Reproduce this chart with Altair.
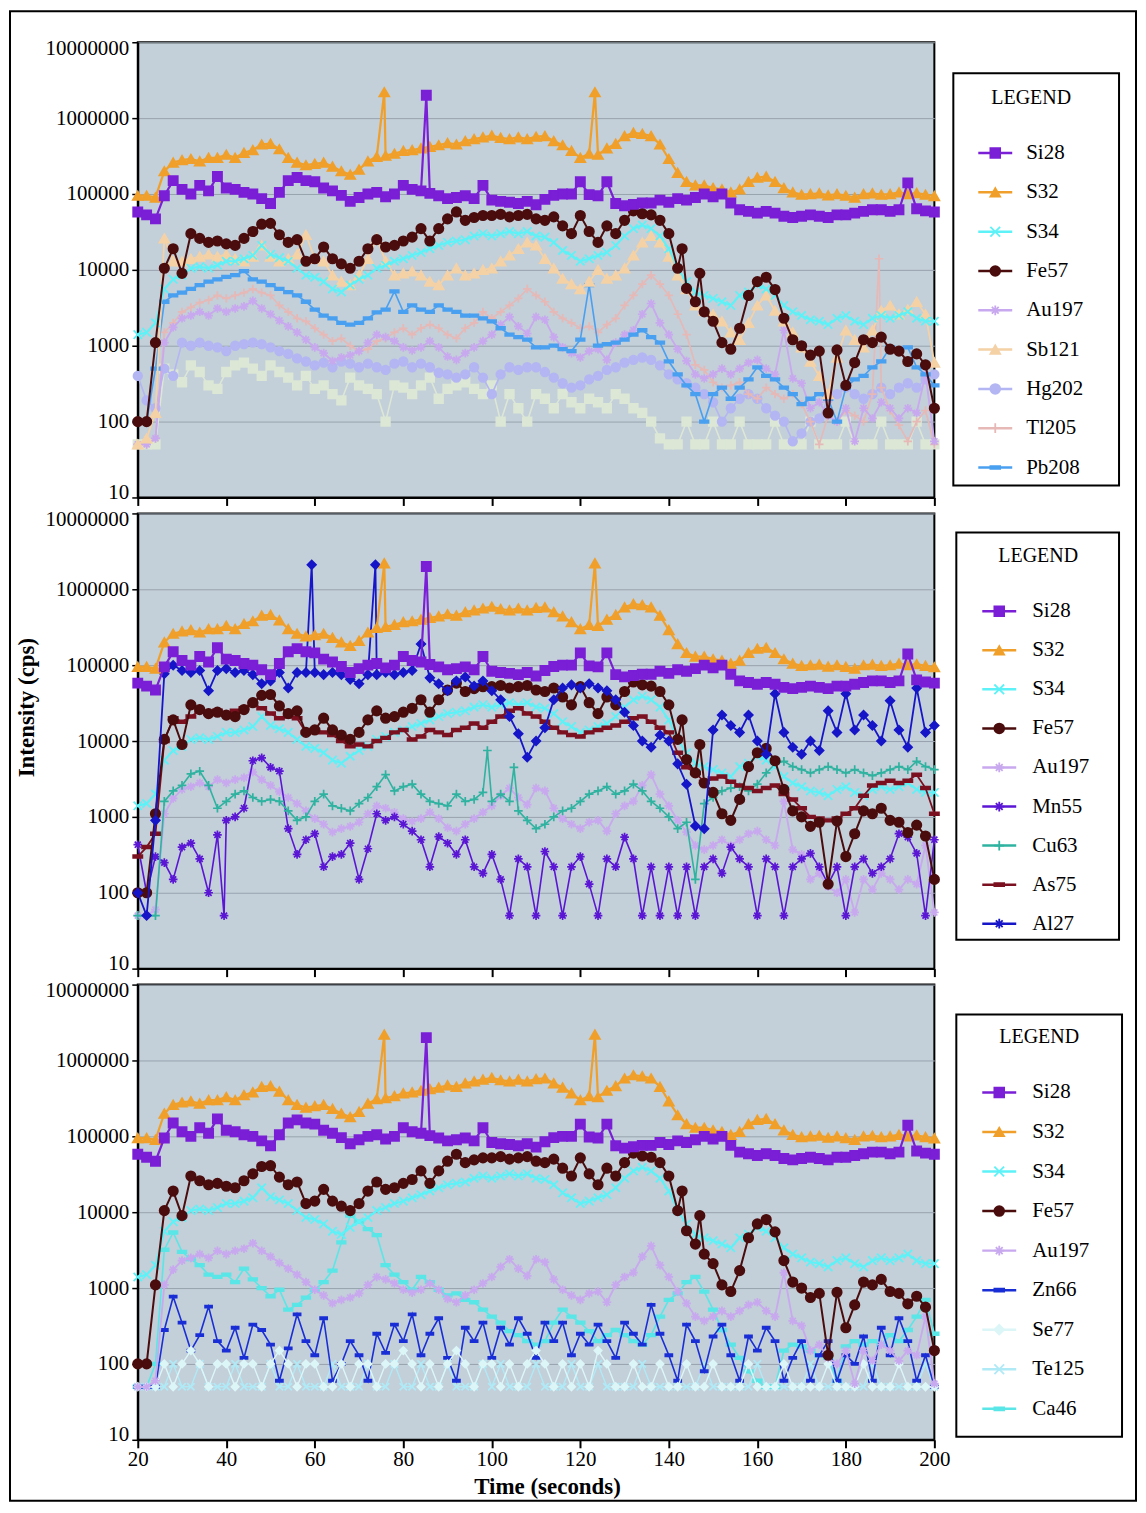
import altair as alt
import pandas as pd

FONT = "Liberation Serif"

# time grid (seconds)
TIME = list(range(20, 201, 2))
X_TICKS = list(range(20, 201, 20))
Y_TICKS = [10, 100, 1000, 10000, 100000, 1000000, 10000000]

# ---------------- series values (cps), one value per TIME step ----------------
SI28 = [58000, 53000, 47000, 95000, 150000, 115000, 100000, 130000, 110000, 170000,
        120000, 115000, 105000, 100000, 87000, 75000, 105000, 150000, 165000, 150000,
        145000, 120000, 110000, 96000, 80000, 90000, 100000, 105000, 92000, 100000,
        130000, 115000, 110000, 102000, 95000, 87000, 90000, 95000, 87000, 130000,
        83000, 80000, 78000, 75000, 80000, 72000, 85000, 96000, 100000, 100000,
        145000, 98000, 95000, 145000, 75000, 70000, 73000, 76000, 76000, 83000,
        78000, 87000, 83000, 90000, 100000, 92000, 100000, 76000, 62000, 59000,
        56000, 59000, 56000, 51000, 49000, 51000, 53000, 51000, 49000, 53000,
        53000, 56000, 59000, 62000, 62000, 59000, 62000, 140000, 64000, 60000,
        58000]
S32 = [95000, 95000, 90000, 200000, 260000, 280000, 290000, 270000, 300000, 300000,
       330000, 300000, 350000, 380000, 450000, 460000, 390000, 300000, 260000, 240000,
       250000, 260000, 230000, 200000, 180000, 210000, 270000, 310000, 320000, 340000,
       370000, 380000, 400000, 420000, 440000, 470000, 450000, 500000, 530000, 560000,
       590000, 550000, 530000, 560000, 530000, 570000, 580000, 500000, 440000, 370000,
       300000, 340000, 330000, 400000, 460000, 580000, 640000, 620000, 580000, 450000,
       290000, 190000, 145000, 130000, 130000, 120000, 115000, 105000, 115000, 145000,
       165000, 170000, 145000, 120000, 105000, 98000, 100000, 102000, 96000, 100000,
       95000, 90000, 100000, 102000, 98000, 100000, 105000, 100000, 103000, 98000,
       94000]
S34 = [1400, 1500, 2000, 5600, 7500, 8500, 10500, 11000, 10500, 11500,
       13000, 13000, 14000, 15500, 21000, 16000, 14500, 13000, 10500, 8500,
       8000, 7000, 5600, 5100, 6300, 7500, 8500, 10500, 11500, 13000,
       14000, 15500, 17000, 19000, 21000, 23000, 24000, 25000, 28000, 30000,
       28000, 30000, 32000, 30000, 32000, 28000, 27000, 23000, 18000, 15500,
       13000, 14000, 15500, 17000, 21000, 28000, 35000, 39000, 35000, 28000,
       19000, 10500, 7000, 5100, 4600, 4200, 3800, 3400, 4600, 5100,
       6300, 5600, 4600, 3400, 2800, 2500, 2200, 2100, 1900, 2300,
       2500, 2100, 1900, 2300, 2500, 2300, 2500, 2800, 2300, 2100,
       2100]
FE57 = [100, 100, 1100, 10500, 19000, 9000, 30000, 26000, 23000, 24000,
        22000, 21000, 26000, 32000, 40000, 41000, 29000, 23000, 25000, 13000,
        14000, 20000, 14000, 12000, 10500, 13000, 19000, 25000, 20000, 21000,
        24000, 27000, 35000, 24000, 35000, 47000, 58000, 45000, 49000, 52000,
        52000, 54000, 50000, 52000, 54000, 47000, 45000, 50000, 38000, 30000,
        52000, 32000, 23000, 38000, 30000, 45000, 60000, 55000, 53000, 45000,
        30000, 10500, 5700, 3800, 2800, 2100, 1100, 900, 1700, 4600,
        7000, 8000, 5500, 2300, 1200, 1000, 750, 850, 130, 880,
        300, 600, 1200, 1100, 1300, 900, 850, 620, 780, 560,
        150]
AU197 = [50, 50, 60, 1100, 1750, 2300, 2500, 2800, 2500, 3100,
         2800, 3100, 3300, 3900, 3100, 2600, 2150, 1800, 1500, 1200,
         950, 800, 630, 700, 750, 850, 1100, 1400, 1300, 1150,
         950, 870, 950, 1150, 950, 720, 650, 800, 950, 1150,
         1400, 1900, 2400, 1800, 1450, 2400, 2200, 1300, 950, 800,
         700, 850, 900, 650, 1100, 1400, 1600, 2600, 3600, 2000,
         1400, 900, 630, 420, 370, 420, 500, 420, 500, 600,
         650, 500, 420, 1600, 370, 320, 150, 180, 120, 100,
         150, 55, 150, 110, 180, 150, 110, 150, 130, 420,
         55]
SB121 = [50, 60, 130, 26000, 13000, 13000, 14000, 15000, 16000, 15000,
         16000, 14000, 13000, 15000, 21000, 15000, 13000, 14000, 16000, 29000,
         14000, 13000, 8500, 7000, 6300, 8500, 14000, 26000, 13000, 8500,
         9000, 9600, 8500, 7000, 6300, 8500, 10500, 8500, 9000, 10000,
         10500, 13000, 15500, 19000, 23000, 21000, 14000, 10500, 7700, 6500,
         5600, 7000, 10000, 7700, 8500, 10500, 15500, 23000, 28000, 23000,
         15000, 8500, 5600, 3400, 2900, 2600, 2100, 1500, 1200, 2000,
         3400, 4600, 2900, 2100, 1500, 950, 620, 400, 230, 700,
         1600, 1200, 950, 1600, 2900, 3400, 2600, 3000, 3800, 2600,
         600]
HG202 = [400, 190, 150, 500, 400, 1100, 1000, 1100, 1000, 950,
         850, 1000, 1050, 1100, 1050, 950, 850, 780, 680, 620,
         550, 600, 520, 620, 580, 520, 580, 520, 480, 580,
         620, 520, 580, 520, 440, 420, 380, 420, 520, 380,
         230, 420, 520, 480, 520, 520, 450, 380, 320, 280,
         300, 360, 400, 480, 520, 600, 650, 700, 650, 550,
         420, 360, 320, 280, 230, 180, 100, 150, 200, 230,
         200, 150, 120, 100, 55, 70, 100, 110, 200, 230,
         280, 230, 200, 230, 280, 230, 280, 320, 280, 360,
         420]
TL205 = [50, 50, 60, 1500, 2000, 2800, 3200, 3700, 4000, 4600,
         4200, 4600, 5000, 5600, 5000, 4600, 3400, 2800, 2300, 2100,
         1700, 1400, 1150, 1250, 1000, 850, 900, 1150, 1250, 1500,
         1700, 1400, 1700, 1900, 1700, 1400, 1250, 1700, 2000, 2800,
         2300, 2800, 3400, 4200, 5600, 4600, 3800, 2800, 2300, 2000,
         1700, 1800, 1500, 1900, 2300, 3400, 4600, 6500, 8500, 6500,
         4600, 2600, 1400, 560, 480, 330, 280, 300, 330, 230,
         200, 280, 230, 200, 230, 170, 100, 50, 120, 100,
         140, 120, 100, 230, 280, 140, 90, 55, 100, 140,
         50]
PB208 = [100, 100, 500, 3800, 4600, 5000, 5600, 6300, 7000, 7500,
         8100, 8500, 9600, 7500, 7000, 6300, 5600, 5100, 4600, 3800,
         3000, 2500, 2300, 2000, 1900, 2000, 2300, 2750, 3000, 5200,
         2800, 3400, 3000, 2800, 3400, 3000, 2800, 2500, 2500, 2300,
         2100, 1700, 1400, 1300, 1200, 950, 950, 1000, 900, 850,
         1200, 6300, 1000, 1050, 1100, 1200, 1400, 1600, 1300, 1100,
         620, 420, 300, 230, 100, 230, 280, 200, 280, 360,
         520, 400, 360, 280, 230, 170, 200, 230, 200, 100,
         280, 360, 400, 520, 620, 950, 900, 950, 520, 420,
         300]
OTHER = [50, 50, 50, 500, 420, 330, 550, 450, 300, 270,
         450, 550, 600, 500, 400, 550, 450, 380, 300, 400,
         270, 300, 230, 190, 380, 300, 270, 230, 100, 300,
         280, 230, 300, 380, 200, 270, 300, 330, 270, 230,
         300, 100, 230, 150, 100, 230, 200, 150, 230, 180,
         150, 200, 180, 150, 230, 200, 150, 130, 100, 60,
         50, 50, 100, 50, 50, 100, 50, 50, 100, 50,
         50, 50, 100, 50, 50, 50, 100, 50, 50, 50,
         100, 50, 50, 50, 100, 50, 50, 50, 100, 50,
         50]
MN55 = [430, 100, 300, 250, 150, 400, 450, 280, 100, 580,
        900, 1000, 1300, 5500, 6000, 4500, 4000, 700, 320, 500,
        600, 220, 300, 320, 450, 150, 380, 1100, 900, 1000,
        800, 650, 500, 220, 550, 450, 320, 500, 220, 180,
        320, 150, 50, 280, 220, 50, 350, 220, 50, 220,
        300, 130, 50, 280, 220, 540, 280, 50, 220, 50,
        220, 50, 220, 50, 220, 280, 180, 400, 280, 220,
        50, 280, 220, 50, 220, 280, 330, 220, 130, 220,
        50, 220, 280, 180, 220, 280, 600, 540, 330, 50,
        500]
CU63 = [50, 50, 50, 1600, 2200, 2600, 3700, 4000, 2600, 1300,
        1600, 2000, 2200, 1800, 1600, 1700, 1600, 1200, 900, 1000,
        1600, 2000, 1400, 1300, 1200, 1500, 1800, 2500, 3600, 2200,
        2500, 2700, 2000, 1600, 1500, 1400, 2000, 1600, 1700, 2100,
        1600, 2000, 1600, 1200, 900, 700, 800, 1000, 1200, 1300,
        1600, 2000, 2200, 2500, 2000, 2200, 2700, 2200, 1600, 1300,
        1000, 700, 850, 150, 1500, 1800, 2200, 2400, 2500, 2200,
        2700, 3800, 5000, 5400, 4600, 4200, 3800, 4200, 4600, 4200,
        3800, 4200, 3800, 3500, 3800, 4200, 4600, 4200, 5400, 4600,
        4200]
AS75 = [300, 400, 600, 10000, 20000, 18000, 21000, 25000, 23000, 25000,
        23000, 25000, 27000, 31000, 27000, 23000, 20000, 21000, 20000, 13000,
        14000, 13000, 12000, 10000, 8500, 9000, 8500, 10000, 11000, 13000,
        14000, 10500, 11500, 14000, 13000, 12000, 14000, 15000, 17000, 15000,
        18000, 21000, 25000, 27000, 23000, 21000, 18000, 15000, 13000, 12000,
        11500, 13000, 14000, 15000, 16000, 18000, 20000, 21000, 18000, 15000,
        13000, 7000, 4500, 3800, 2900, 3200, 3400, 2900, 2600, 2400,
        2200, 2400, 2600, 2000, 1700, 1300, 1000, 950, 900, 950,
        1100, 1300, 1900, 2600, 2800, 3000, 2800, 3000, 3600, 2400,
        1100]
AL27 = [100, 50, 900, 77000, 100000, 85000, 80000, 85000, 46000, 85000,
        90000, 80000, 85000, 75000, 57000, 62000, 80000, 50000, 80000, 80000,
        80000, 75000, 80000, 75000, 65000, 57000, 75000, 75000, 80000, 75000,
        80000, 85000, 190000, 68000, 57000, 46000, 62000, 70000, 53000, 62000,
        46000, 35000, 21000, 12500, 6100, 10000, 15000, 35000, 50000, 55000,
        50000, 57000, 50000, 46000, 35000, 24000, 16000, 10000, 8300, 12000,
        10000, 5000, 2700, 760, 700, 14000, 22000, 16000, 13000, 22000,
        10000, 6700, 42000, 13000, 8300, 6700, 10000, 7500, 25000, 13000,
        42000, 14000, 22000, 16000, 10000, 34000, 14000, 8300, 50000, 13000,
        16000]
ZN66 = [50, 50, 50, 280, 770, 350, 150, 240, 570, 200,
        150, 300, 120, 330, 280, 180, 60, 160, 450, 200,
        130, 400, 60, 100, 200, 130, 60, 250, 140, 330,
        200, 450, 130, 250, 400, 120, 60, 300, 200, 350,
        120, 300, 180, 400, 250, 120, 350, 200, 350, 130,
        250, 180, 330, 200, 120, 350, 250, 180, 600, 250,
        130, 60, 330, 200, 80, 230, 330, 130, 60, 230,
        150, 300, 200, 60, 120, 200, 60, 130, 200, 60,
        130, 100, 230, 60, 300, 130, 400, 200, 60, 130,
        50]
SE77 = [50, 50, 50, 100, 50, 100, 150, 100, 50, 100,
        100, 50, 100, 100, 50, 100, 150, 100, 50, 100,
        100, 50, 50, 100, 50, 100, 100, 50, 100, 100,
        150, 100, 50, 100, 50, 100, 150, 100, 50, 100,
        100, 50, 100, 50, 100, 150, 100, 50, 100, 50,
        100, 50, 150, 100, 50, 50, 100, 50, 50, 100,
        50, 50, 100, 50, 50, 100, 50, 50, 50, 100,
        50, 50, 50, 100, 50, 50, 50, 50, 100, 50,
        50, 50, 100, 50, 50, 50, 100, 50, 50, 50,
        50]
TE125 = [50, 50, 50, 50, 100, 50, 50, 100, 50, 50,
         50, 100, 50, 50, 50, 100, 50, 50, 100, 50,
         50, 50, 100, 50, 50, 50, 100, 50, 50, 100,
         50, 50, 100, 50, 50, 100, 50, 50, 50, 100,
         50, 100, 50, 50, 50, 100, 50, 50, 50, 100,
         50, 50, 100, 50, 50, 50, 50, 100, 50, 50,
         50, 50, 50, 50, 100, 50, 50, 50, 50, 50,
         100, 50, 50, 50, 50, 50, 100, 50, 50, 50,
         50, 50, 50, 100, 50, 50, 50, 50, 50, 100,
         50]
CA46 = [50, 50, 100, 3200, 5400, 3000, 2400, 2000, 1500, 1400,
        1500, 1200, 1800, 1300, 1000, 780, 950, 520, 600, 750,
        950, 1200, 1700, 4000, 9000, 7500, 6000, 5000, 2000, 1500,
        1200, 950, 1400, 1200, 950, 800, 850, 700, 650, 520,
        420, 350, 270, 240, 200, 180, 200, 350, 520, 420,
        350, 270, 200, 240, 280, 240, 200, 180, 240, 420,
        700, 850, 1200, 1400, 900, 520, 280, 180, 120, 80,
        60, 50, 50, 150, 180, 170, 150, 130, 120, 60,
        170, 200, 180, 200, 180, 240, 200, 280, 420, 700,
        250]

SERIES = {"Si28": SI28, "S32": S32, "S34": S34, "Fe57": FE57, "Au197": AU197,
          "Sb121": SB121, "Hg202": HG202, "Tl205": TL205, "Pb208": PB208,
          "Other": OTHER, "Mn55": MN55, "Cu63": CU63, "As75": AS75, "Al27": AL27,
          "Zn66": ZN66, "Se77": SE77, "Te125": TE125, "Ca46": CA46}
for _k, _v in SERIES.items():
    assert len(_v) == len(TIME), (_k, len(_v))

# short transient readings between grid steps: (time, cps)
SPIKES = {
    "S32": [(75.7, 2200000), (123.3, 2200000)],
    "Si28": [(85.2, 2000000)],
    "Fe57": [(143.0, 19000), (147.0, 9000)],
    "Tl205": [(187.5, 14000)],
    "Mn55": [(39.5, 50)],
    "Cu63": [(99.0, 7500), (105.0, 4500)],
    "Al27": [(59.3, 2100000), (73.7, 2100000)],
}

SQUARE = "square"
TRI = "triangle-up"
CIRCLE = "circle"
DIAMOND = "diamond"
XMARK = "M-1,-1L1,1M-1,1L1,-1"
PLUS = "M-1,0L1,0M0,-1L0,1"
STAR = "M-1,0L1,0M0,-1L0,1M-0.7,-0.7L0.7,0.7M-0.7,0.7L0.7,-0.7"
DASH = "M-1,-0.3L1,-0.3L1,0.3L-1,0.3Z"

# name: (colour, marker, marker size, line width)
STYLE = {
    "Si28": ("#7a1fd6", SQUARE, 85, 2.2),
    "S32": ("#f0a02a", TRI, 100, 2.2),
    "S34": ("#5cf2f7", XMARK, 70, 2.0),
    "Fe57": ("#4a0c0c", CIRCLE, 90, 2.0),
    "Au197": ("#c8a8ee", STAR, 75, 1.8),
    "Sb121": ("#f5d1a6", TRI, 100, 1.8),
    "Hg202": ("#b3b6f2", CIRCLE, 75, 1.6),
    "Tl205": ("#e6b8b6", PLUS, 70, 1.6),
    "Pb208": ("#4aa0f0", DASH, 75, 1.6),
    "Other": ("#dce7d5", SQUARE, 75, 1.6),
    "Mn55": ("#5a16d4", STAR, 75, 1.6),
    "Cu63": ("#2fb3a0", PLUS, 75, 1.6),
    "As75": ("#7a1020", DASH, 85, 1.8),
    "Al27": ("#1616c8", DIAMOND, 75, 1.8),
    "Zn66": ("#1a2ed6", DASH, 50, 1.6),
    "Se77": ("#dcf6f8", DIAMOND, 55, 1.4),
    "Te125": ("#b0eaf6", XMARK, 55, 1.4),
    "Ca46": ("#5ae6e6", DASH, 75, 1.6),
}
LEGEND_SHAPE = {"Al27": STAR}

P1_NAMES = ["Si28", "S32", "S34", "Fe57", "Au197", "Sb121", "Hg202", "Tl205", "Pb208"]
P2_NAMES = ["Si28", "S32", "S34", "Fe57", "Au197", "Mn55", "Cu63", "As75", "Al27"]
P3_NAMES = ["Si28", "S32", "S34", "Fe57", "Au197", "Zn66", "Se77", "Te125", "Ca46"]

P1_ORDER = ["Other", "Hg202", "Tl205", "Au197", "Pb208", "Sb121", "S34", "Fe57", "S32", "Si28"]
P2_ORDER = ["Au197", "Mn55", "Cu63", "S34", "As75", "Fe57", "Al27", "S32", "Si28"]
P3_ORDER = ["Te125", "Ca46", "Zn66", "Se77", "Au197", "S34", "Fe57", "S32", "Si28"]

PLOT_W, PLOT_H = 798, 456
LEG_W = 192


def series_df(name):
    t = list(TIME)
    v = list(SERIES[name])
    for st, sv in SPIKES.get(name, []):
        t.append(st)
        v.append(sv)
    return pd.DataFrame({"t": t, "v": v}).sort_values("t").reset_index(drop=True)


def panel(order, bottom, ytitle, frame=False):
    xa = dict(values=X_TICKS, labels=bottom, labelFlush=False, grid=False, tickSize=8,
              tickWidth=2, tickColor="black", domainColor="black", domainWidth=2,
              labelFont=FONT, labelFontSize=21, labelColor="black", labelPadding=1)
    if bottom:
        xa.update(titleFont=FONT, titleFontSize=23, titleFontWeight="bold",
                  titleColor="black", titlePadding=6, titleX=410)
    ya = dict(values=Y_TICKS, format="d", grid=True, gridColor="#98a3ae", gridWidth=1,
              tickSize=6, tickWidth=1.5, tickColor="black", domainColor="black",
              domainWidth=2, labelFont=FONT, labelFontSize=21, labelColor="black",
              labelPadding=3, labelFlush=True, labelFlushOffset=5)
    if ytitle:
        ya.update(titleFont=FONT, titleFontSize=23, titleFontWeight="bold",
                  titleColor="black", titlePadding=6, titleY=194)
    x = alt.X("t:Q", scale=alt.Scale(domain=[20, 200], nice=False, zero=False),
              axis=alt.Axis(**xa), title="Time (seconds)" if bottom else None)
    y = alt.Y("v:Q", scale=alt.Scale(type="log", domain=[10, 10000000], nice=False),
              axis=alt.Axis(**ya), title="Intensity (cps)" if ytitle else None)
    layers = []
    if frame:
        # thin border round the whole figure
        layers.append(alt.Chart(pd.DataFrame({"k": [0]})).mark_rect(
            fill="white", fillOpacity=0, stroke="black", strokeWidth=2).encode(
            x=alt.value(-128), x2=alt.value(1000), y=alt.value(-31), y2=alt.value(1461)))
    for name in order:
        color, shape, size, lw = STYLE[name]
        base = alt.Chart(series_df(name)).encode(x=x, y=y)
        layers.append(base.mark_line(color=color, strokeWidth=lw))
        layers.append(base.mark_point(shape=shape, filled=True, fill=color, stroke=color,
                                      strokeWidth=1.7, size=size, opacity=1))
    return alt.layer(*layers).properties(
        width=PLOT_W, height=PLOT_H,
        view=alt.ViewBackground(fill="#c3cfd9", stroke="black", strokeWidth=2))


def legend(names, box, title_xy, item_y, line_x, label_x):
    one = pd.DataFrame({"k": [0]})
    yenc = alt.Y("name:N", scale=alt.Scale(type="point", domain=names,
                                           range=list(item_y), padding=0), axis=None)
    layers = [
        alt.Chart(one).mark_rect(fill="white", stroke="black", strokeWidth=2).encode(
            x=alt.value(box[0]), x2=alt.value(box[1]), y=alt.value(box[2]), y2=alt.value(box[3])),
        alt.Chart(one).mark_text(text="LEGEND", font=FONT, fontSize=20, color="black",
                                 align="center", baseline="middle").encode(
            x=alt.value(title_xy[0]), y=alt.value(title_xy[1])),
    ]
    mid = (line_x[0] + line_x[1]) / 2
    for n in names:
        color, shape, size, lw = STYLE[n]
        shape = LEGEND_SHAPE.get(n, shape)
        d = pd.DataFrame({"name": [n]})
        layers.append(alt.Chart(d).mark_rule(color=color, strokeWidth=2.5).encode(
            x=alt.value(line_x[0]), x2=alt.value(line_x[1]), y=yenc))
        layers.append(alt.Chart(d).mark_point(shape=shape, filled=True, fill=color, stroke=color,
                                              strokeWidth=1.8, size=95, opacity=1).encode(
            x=alt.value(mid), y=yenc))
    layers.append(alt.Chart(pd.DataFrame({"name": names})).mark_text(
        align="left", baseline="middle", font=FONT, fontSize=21, color="black").encode(
        x=alt.value(label_x), y=yenc, text="name:N"))
    return alt.layer(*layers).properties(
        width=LEG_W, height=PLOT_H,
        view=alt.ViewBackground(stroke="transparent", fill="transparent"))


p1 = panel(P1_ORDER, False, False, frame=True)
p2 = panel(P2_ORDER, False, True)
p3 = panel(P3_ORDER, True, False)

l1 = legend(P1_NAMES, (19, 185, 31, 444), (97, 56), (111, 426), (44, 78), 92)
l2 = legend(P2_NAMES, (22, 185, 19, 427), (104, 43), (98, 411), (48, 82), 98)
l3 = legend(P3_NAMES, (22, 188, 30, 453), (105, 53), (108, 425), (48, 82), 98)

chart = alt.concat(p1, l1, p2, l2, p3, l3, columns=2,
                   spacing={"row": 16, "column": 0}, bounds="flush").properties(
    padding={"left": 0, "top": 0, "right": 0, "bottom": 0},
    background="white")

chart.save("out.html", embed_options={"renderer": "svg", "actions": False})
